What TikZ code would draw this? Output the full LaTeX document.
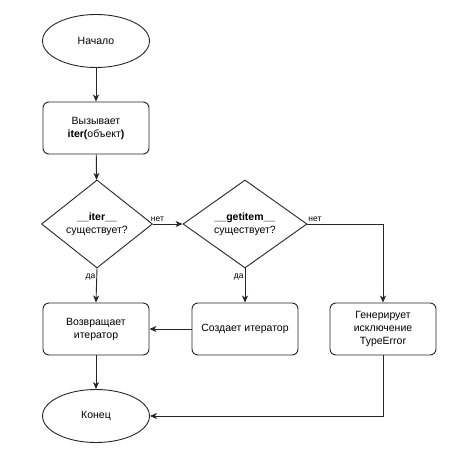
\documentclass[tikz,border=0pt]{standalone}
\usepackage{fontspec}
\setmainfont{Liberation Sans}
\usetikzlibrary{shapes.geometric,arrows.meta}
\begin{document}
\begin{tikzpicture}[x=1pt,y=-1pt,
  base/.style={draw=black!85,line width=0.9pt,align=center,font=\fontsize{10.5}{13}\selectfont},
  oval/.style={base,ellipse,minimum width=107pt,minimum height=53pt,inner sep=0pt},
  box/.style={base,rounded corners=6pt,minimum width=106pt,minimum height=52pt,inner sep=1pt},
  dia/.style={base,diamond,inner sep=0pt},
  conn/.style={draw=black!85,line width=0.9pt,-{Stealth[length=7pt,width=6pt,inset=2pt]}},
  lbl/.style={font=\fontsize{8.5}{10}\selectfont,inner sep=1pt}]
\useasboundingbox (0,0) rectangle (474,468);
\node[oval] (start) at (96,41) {Начало};
\node[box] (call) at (96,128) {Вызывает\\\textbf{iter(}объект\textbf{)}};
\node[dia,minimum width=111pt,minimum height=88pt,aspect=1.26] (d1) at (97,224) {\textbf{\_\_iter\_\_}\\существует?};
\node[dia,minimum width=124pt,minimum height=88pt,aspect=1.41] (d2) at (245,224) {\textbf{\_\_getitem\_\_}\\существует?};
\node[box] (ret) at (96,329) {Возвращает\\итератор};
\node[box] (create) at (245,329) {Создает итератор};
\node[box] (err) at (383,329) {Генерирует\\исключение\\TypeError};
\node[oval] (end) at (96,416) {Конец};
\coordinate (c1) at (383,224);
\coordinate (c2) at (383,416);
\draw[conn] (start) -- (call);
\draw[conn] (call) -- (d1);
\draw[conn] (d1.east) -- node[lbl,pos=0.15,above=1pt] {нет} (d2.west);
\draw[conn] (d2.east) -- node[lbl,pos=0.1,above=1pt] {нет} (c1) -- (err.north);
\draw[conn] (d1.south) -- node[lbl,pos=0.25,left] {да} (ret.north);
\draw[conn] (d2.south) -- node[lbl,pos=0.25,left] {да} (create.north);
\draw[conn] (create.west) -- (ret.east);
\draw[conn] (ret) -- (end);
\draw[conn] (err.south) -- (c2) -- (end.east);
\end{tikzpicture}
\end{document}
